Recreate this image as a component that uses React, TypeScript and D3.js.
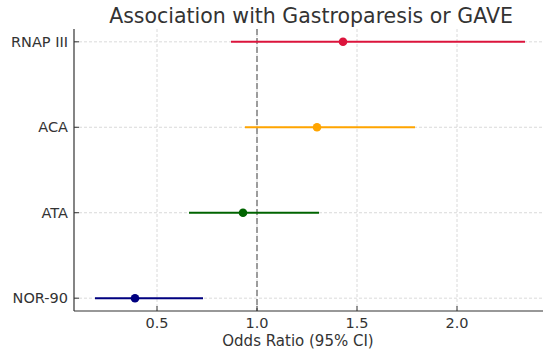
import { useEffect, useRef } from 'react'
import * as d3 from 'd3'

const categories = ['RNAP III', 'ACA', 'ATA', 'NOR-90']
const oddsRatio = [1.43, 1.3, 0.93, 0.39]
const ciLower = [0.87, 0.94, 0.66, 0.19]
const ciUpper = [2.34, 1.79, 1.31, 0.73]
const colors = ['#dc143c', '#ffa500', '#006400', '#000080']
const xTicks = [0.5, 1.0, 1.5, 2.0]

const W = 543
const H = 354

export default function App() {
  const svgRef = useRef<SVGSVGElement>(null)

  useEffect(() => {
    if (!svgRef.current) return
    const svg = d3.select(svgRef.current)
    svg.selectAll('*').remove()

    const left = 74
    const top = 29
    const bottom = 311
    const right = 547

    const x = d3.scaleLinear().domain([0.085, 2.45]).range([left, right])
    const y = d3.scaleLinear().domain([-0.15, 3.15]).range([top, bottom])
    const font = 'DejaVu Sans, sans-serif'

    // grid
    const g = svg.append('g')
    g.selectAll('.vgrid')
      .data(xTicks)
      .enter().append('line')
      .attr('x1', d => x(d)).attr('x2', d => x(d))
      .attr('y1', top).attr('y2', bottom)
      .attr('stroke', '#d0d0d0').attr('stroke-width', 0.8)
      .attr('stroke-dasharray', '3,2')
    g.selectAll('.hgrid')
      .data(categories)
      .enter().append('line')
      .attr('x1', left).attr('x2', right)
      .attr('y1', (_, i) => y(i)).attr('y2', (_, i) => y(i))
      .attr('stroke', '#d0d0d0').attr('stroke-width', 0.8)
      .attr('stroke-dasharray', '3,2')

    // reference line at 1
    g.append('line')
      .attr('x1', x(1)).attr('x2', x(1))
      .attr('y1', top).attr('y2', bottom)
      .attr('stroke', '#808080').attr('stroke-width', 1.5)
      .attr('stroke-dasharray', '6,3')

    // CI lines and points
    categories.forEach((c, i) => {
      g.append('line')
        .attr('x1', x(ciLower[i])).attr('x2', x(ciUpper[i]))
        .attr('y1', y(i)).attr('y2', y(i))
        .attr('stroke', colors[i]).attr('stroke-width', 2)
      g.append('circle')
        .attr('cx', x(oddsRatio[i])).attr('cy', y(i))
        .attr('r', 4.3).attr('fill', colors[i])
    })

    // spines
    g.append('line')
      .attr('x1', left).attr('x2', left).attr('y1', top).attr('y2', bottom)
      .attr('stroke', '#333').attr('stroke-width', 1.2)
    g.append('line')
      .attr('x1', left).attr('x2', right).attr('y1', bottom).attr('y2', bottom)
      .attr('stroke', '#333').attr('stroke-width', 1.2)

    // y ticks
    categories.forEach((c, i) => {
      g.append('line')
        .attr('x1', left).attr('x2', left + 5)
        .attr('y1', y(i)).attr('y2', y(i))
        .attr('stroke', '#333').attr('stroke-width', 1)
      g.append('text')
        .attr('x', left - 6).attr('y', y(i))
        .attr('text-anchor', 'end').attr('dominant-baseline', 'central')
        .attr('font-family', font).attr('font-size', 14.5)
        .attr('fill', '#333')
        .text(c)
    })

    // x ticks
    xTicks.forEach(t => {
      g.append('line')
        .attr('x1', x(t)).attr('x2', x(t))
        .attr('y1', bottom).attr('y2', bottom - 5)
        .attr('stroke', '#333').attr('stroke-width', 1)
      g.append('text')
        .attr('x', x(t)).attr('y', bottom + 17)
        .attr('text-anchor', 'middle')
        .attr('font-family', font).attr('font-size', 14.5)
        .attr('fill', '#333')
        .text(t.toFixed(1))
    })

    svg.append('text')
      .attr('x', 298).attr('y', 346)
      .attr('text-anchor', 'middle')
      .attr('font-family', font).attr('font-size', 15)
      .attr('fill', '#333')
      .text('Odds Ratio (95% CI)')

    svg.append('text')
      .attr('x', 311).attr('y', 23)
      .attr('text-anchor', 'middle')
      .attr('font-family', font).attr('font-size', 20.5)
      .attr('fill', '#333')
      .text('Association with Gastroparesis or GAVE')
  }, [])

  return (
    <svg
      ref={svgRef}
      width={W}
      height={H}
      style={{ position: 'absolute', left: 0, top: 0, background: '#fff' }}
    />
  )
}
